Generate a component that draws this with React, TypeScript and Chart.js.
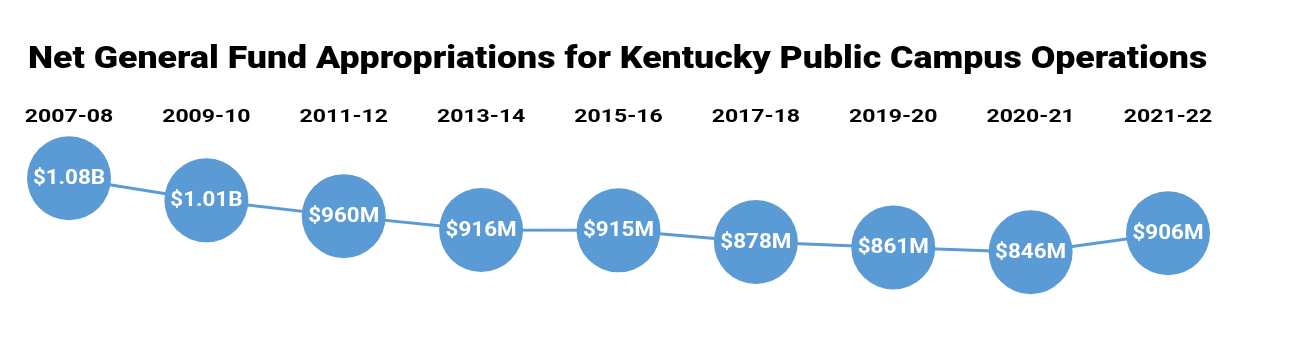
import React, { useEffect, useRef } from "react";
import { Chart, registerables } from "chart.js";

Chart.register(...registerables);

const TITLE = "Net General Fund Appropriations for Kentucky Public Campus Operations";
const YEARS = ["2007-08", "2009-10", "2011-12", "2013-14", "2015-16", "2017-18", "2019-20", "2020-21", "2021-22"];
const VALUES_M = [1080, 1010, 960, 916, 915, 878, 861, 846, 906];
const VALUE_LABELS = ["$1.08B", "$1.01B", "$960M", "$916M", "$915M", "$878M", "$861M", "$846M", "$906M"];

const BLUE = "#5b9bd5";
const TITLE_SIZE = 32;
const TICK_SIZE = 18;
const LABEL_SIZE = 20;
const TITLE_STRETCH = 1.115;
const TICK_STRETCH = 1.28;
const LABEL_STRETCH = 1.12;

// Horizontally widen text drawn by the chart (the reference uses wide lettering).
const stretchPlugin = {
  id: "stretchText",
  beforeDraw(chart: any) {
    const ctx = chart.ctx;
    if (ctx.__origFillText) return;
    const orig = ctx.fillText;
    ctx.__origFillText = orig;
    ctx.fillText = function (text: string, x: number, y: number) {
      const f = String(ctx.font);
      let s = 1;
      if (f.includes(TITLE_SIZE + "px")) s = TITLE_STRETCH;
      else if (f.includes(TICK_SIZE + "px")) s = TICK_STRETCH;
      else if (f.includes(LABEL_SIZE + "px")) s = LABEL_STRETCH;
      ctx.save();
      ctx.translate(x, y);
      ctx.scale(s, 1);
      orig.call(ctx, text, 0, 0);
      ctx.restore();
    };
  },
};

const valueLabelPlugin = {
  id: "valueLabels",
  afterDatasetsDraw(chart: any) {
    const ctx = chart.ctx;
    const meta = chart.getDatasetMeta(0);
    ctx.save();
    ctx.fillStyle = "#ffffff";
    ctx.font = `bold ${LABEL_SIZE}px Roboto`;
    ctx.textAlign = "center";
    ctx.textBaseline = "middle";
    meta.data.forEach((pt: any, i: number) => {
      ctx.fillText(VALUE_LABELS[i], pt.x, pt.y + 1);
    });
    ctx.restore();
  },
};

export default function App() {
  const ref = useRef<HTMLCanvasElement | null>(null);
  useEffect(() => {
    document.body.style.margin = "0";
    const chart = new Chart(ref.current as HTMLCanvasElement, {
      type: "line",
      data: {
        labels: YEARS,
        datasets: [
          {
            data: VALUES_M,
            borderColor: BLUE,
            borderWidth: 3,
            backgroundColor: BLUE,
            pointBackgroundColor: BLUE,
            pointBorderColor: BLUE,
            pointBorderWidth: 0,
            pointRadius: 42,
            pointHoverRadius: 42,
            tension: 0,
            clip: false,
          },
        ],
      },
      options: {
        animation: false,
        responsive: true,
        maintainAspectRatio: false,
        events: [],
        layout: { padding: { left: 28, right: 132, top: 0, bottom: 33 } },
        plugins: {
          legend: { display: false },
          tooltip: { enabled: false },
          title: {
            display: true,
            text: TITLE,
            align: "start",
            color: "#000000",
            font: { family: "Roboto", weight: 900, size: TITLE_SIZE, lineHeight: 1 },
            padding: { top: 44, bottom: 4 },
          },
        },
        scales: {
          x: {
            position: "top",
            grid: { display: false, drawTicks: false },
            border: { display: false },
            ticks: {
              color: "#000000",
              font: { family: "Roboto", weight: "bold", size: TICK_SIZE, lineHeight: 1.2 },
              padding: 12,
              maxRotation: 0,
              autoSkip: false,
            },
            afterFit(scale: any) {
              scale.height = 60;
            },
          },
          y: {
            display: true,
            min: 628,
            max: 1201,
            grid: { display: false, drawTicks: false },
            border: { display: false },
            ticks: { display: false },
            afterFit(scale: any) {
              scale.width = 41;
            },
          },
        },
      },
      plugins: [stretchPlugin, valueLabelPlugin],
    });
    return () => chart.destroy();
  }, []);
  return (
    <div style={{ width: 1300, height: 363, position: "relative" }}>
      <canvas ref={ref} />
    </div>
  );
}
